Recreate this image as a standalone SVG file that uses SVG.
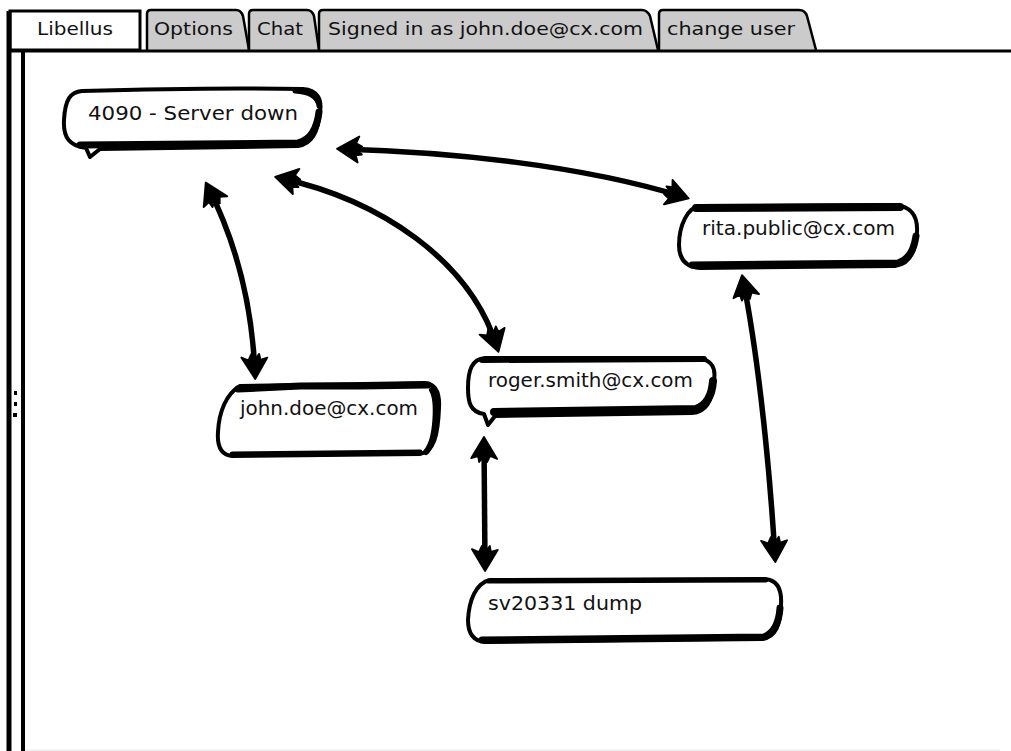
<svg xmlns="http://www.w3.org/2000/svg" width="1011" height="751" viewBox="0 0 1011 751">
<style>
.tab{fill:#cbcbcb;stroke:#000;stroke-width:2.5;stroke-linejoin:round}
.tabtxt{font-family:"DejaVu Sans","Liberation Sans",sans-serif;font-size:17px;fill:#111}
.box{fill:#fff;stroke:#000;stroke-width:4;stroke-linejoin:round}
.thick{fill:none;stroke:#000;stroke-linecap:round}
.lbl{font-family:"DejaVu Sans","Liberation Sans",sans-serif;font-size:19px;fill:#111}
.con{fill:none;stroke:#000;stroke-width:5.5;stroke-linecap:butt}
</style>
<defs>
<marker id="ah" markerUnits="userSpaceOnUse" viewBox="-4 -17 32 34" markerWidth="32" markerHeight="34" refX="19" refY="0" orient="auto-start-reverse">
<path d="M24,0 L3,-13 L5,-6 L-1,-5 L4,-1 L-1,3 L5,6 L2,13 Z" fill="#000" stroke="#000" stroke-width="1.8" stroke-linejoin="round"/>
</marker>
</defs>
<rect width="1011" height="751" fill="#fff"/>

<g id="tabs">
<g id="tab-options"><path class="tab" d="M147,50 L147,14 Q147,10 151,10 L236,10 Q241,10 243,16 L249,50"/><text class="tabtxt" x="154" y="35" textLength="79" lengthAdjust="spacingAndGlyphs">Options</text></g>
<g id="tab-chat"><path class="tab" d="M249,50 L249,14 Q249,10 253,10 L307,10 Q312,10 314,16 L319,50"/><text class="tabtxt" x="257" y="35" textLength="46" lengthAdjust="spacingAndGlyphs">Chat</text></g>
<g id="tab-signed"><path class="tab" d="M319,50 L319,14 Q319,10 323,10 L642,10 Q647,10 650,16 L658,50"/><text class="tabtxt" x="328" y="35" textLength="315" lengthAdjust="spacingAndGlyphs">Signed in as john.doe@cx.com</text></g>
<g id="tab-change"><path class="tab" d="M659,50 L659,14 Q659,10 663,10 L799,10 Q805,10 807,16 L816,50"/><text class="tabtxt" x="667" y="35" textLength="128" lengthAdjust="spacingAndGlyphs">change user</text></g>
<g id="tab-libellus"><rect x="10" y="11" width="130" height="39" fill="#fff" stroke="#000" stroke-width="3"/><text class="tabtxt" x="37" y="35" textLength="76" lengthAdjust="spacingAndGlyphs">Libellus</text></g>
</g>

<g id="panel">
<line x1="8" y1="51" x2="1011" y2="51" stroke="#000" stroke-width="3"/>
<line x1="9" y1="11" x2="9" y2="751" stroke="#000" stroke-width="5"/>
<line x1="23" y1="51" x2="23" y2="751" stroke="#000" stroke-width="4"/>
<rect x="14" y="391" width="3" height="4" fill="#000"/>
<rect x="14" y="402" width="3" height="4" fill="#000"/>
<rect x="13" y="413" width="4" height="4" fill="#000"/>
<line x1="26" y1="750" x2="1000" y2="750" stroke="#e6e6e6" stroke-width="1"/>
</g>

<g id="connectors">
<path class="con" d="M342,149 C450,152 580,165 684,197" marker-start="url(#ah)" marker-end="url(#ah)"/>
<path class="con" d="M280,178 C380,200 470,260 497,347" marker-start="url(#ah)" marker-end="url(#ah)"/>
<path class="con" d="M208,187 C235,240 252,300 255,374" marker-start="url(#ah)" marker-end="url(#ah)"/>
<path class="con" d="M484,442 L485,566" marker-start="url(#ah)" marker-end="url(#ah)"/>
<path class="con" d="M743,280 C755,340 768,440 775,557" marker-start="url(#ah)" marker-end="url(#ah)"/>
</g>

<g id="node-server-down">
<path class="box" d="M82,91 C150,89 250,88 303,89 C318,90 322,100 320,112 C318,132 312,144 298,146 L100,149 L90,157 L86,148 C70,146 63,138 64,120 C65,100 70,92 82,91 Z"/>
<path class="thick" stroke-width="7" d="M80,145 L298,143 C311,140 317,128 319,112"/>
<path class="thick" stroke-width="5" d="M295,91 C312,92 318,98 319,106"/>
<text class="lbl" x="88" y="120" textLength="210" lengthAdjust="spacingAndGlyphs">4090 - Server down</text>
</g>

<g id="node-rita">
<path class="box" d="M700,206 L895,205 C910,206 918,215 917,232 C916,252 910,264 895,266 L700,268 C685,267 679,258 679,245 C679,225 688,207 700,206 Z"/>
<path class="thick" stroke-width="8" d="M696,208 L900,207"/>
<path class="thick" stroke-width="7" d="M692,265 L898,263 C908,260 914,250 916,236"/>
<text class="lbl" x="702" y="235" textLength="193" lengthAdjust="spacingAndGlyphs">rita.public@cx.com</text>
</g>

<g id="node-roger">
<path class="box" d="M485,358 L698,358 C712,360 716,368 714,380 C712,402 706,412 692,413 L495,416 L488,425 L484,414 C470,412 468,402 468,388 C468,370 472,359 485,358 Z"/>
<path class="thick" stroke-width="6" d="M482,360 L704,359"/>
<path class="thick" stroke-width="8" d="M494,412 L696,409 C707,405 712,395 713,381"/>
<text class="lbl" x="488" y="387" textLength="205" lengthAdjust="spacingAndGlyphs">roger.smith@cx.com</text>
</g>

<g id="node-john">
<path class="box" d="M240,386 L425,383 C436,384 440,392 439,408 C438,435 434,452 420,454 L232,456 C221,455 217,446 218,432 C219,412 226,394 240,386 Z"/>
<path class="thick" stroke-width="7" d="M238,389 L300,386 L360,386 L428,385"/>
<path class="thick" stroke-width="6" d="M432,390 C438,400 437,440 426,452"/>
<path class="thick" stroke-width="5" d="M232,454 L420,452"/>
<text class="lbl" x="240" y="415" textLength="178" lengthAdjust="spacingAndGlyphs">john.doe@cx.com</text>
</g>

<g id="node-sv">
<path class="box" d="M490,580 L765,579 C778,580 782,590 781,605 C780,625 776,637 762,639 L485,642 C472,641 468,632 468,620 C469,600 476,583 490,580 Z"/>
<path class="thick" stroke-width="5" d="M488,581 L766,580"/>
<path class="thick" stroke-width="7" d="M482,640 L764,637 C774,633 779,622 780,608"/>
<text class="lbl" x="488" y="610" textLength="154" lengthAdjust="spacingAndGlyphs">sv20331 dump</text>
</g>
</svg>
